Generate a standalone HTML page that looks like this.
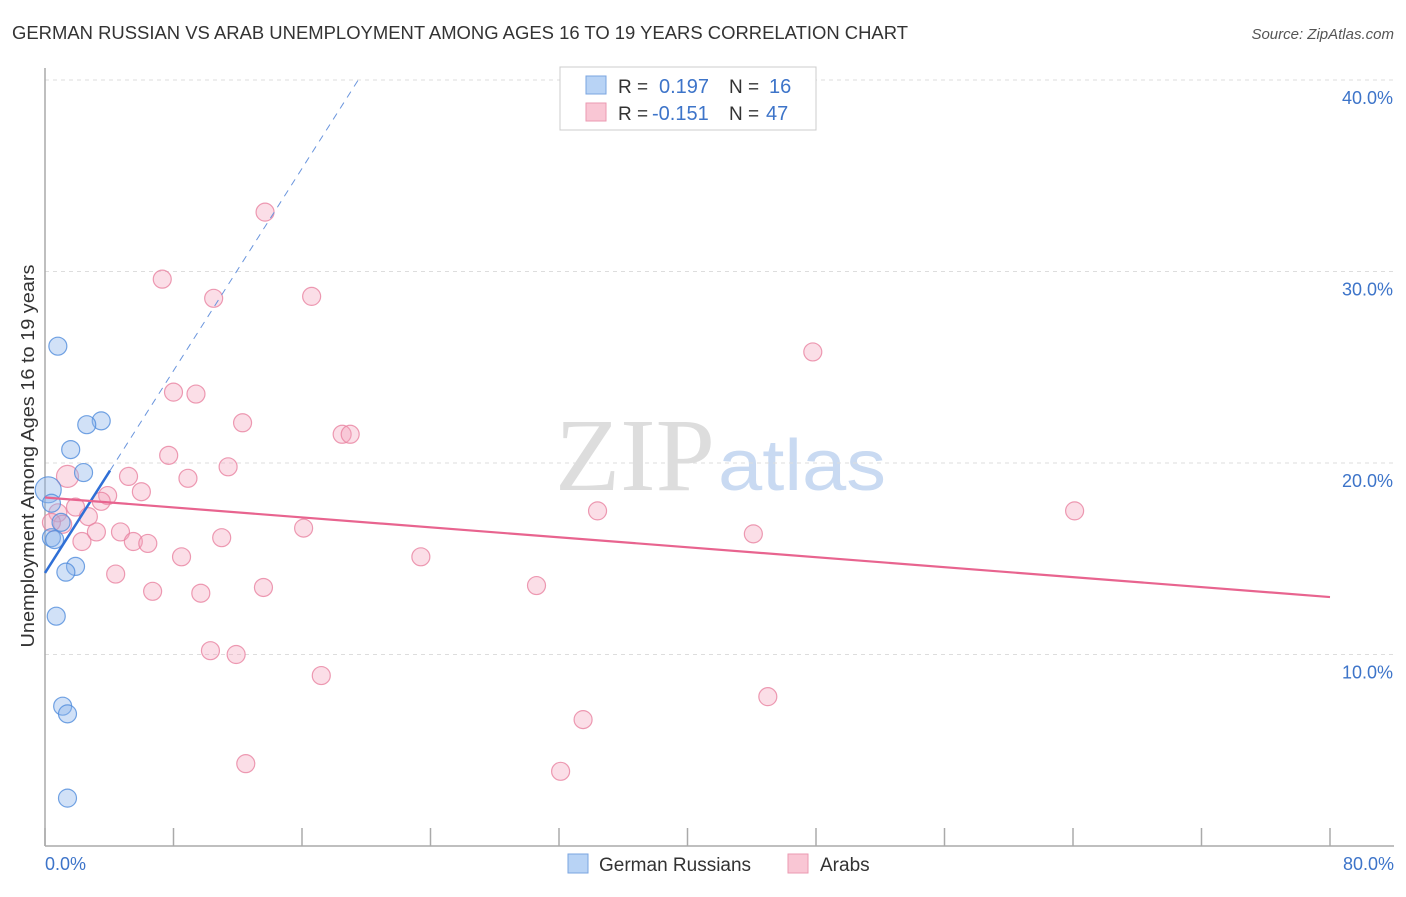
<!DOCTYPE html>
<html><head><meta charset="utf-8"><style>
body{margin:0;background:#fff;font-family:"Liberation Sans",sans-serif;}
</style></head><body>
<svg width="1406" height="892" xmlns="http://www.w3.org/2000/svg" id="chart">
<text x="12" y="39" font-size="18" fill="#333" textLength="896" lengthAdjust="spacingAndGlyphs">GERMAN RUSSIAN VS ARAB UNEMPLOYMENT AMONG AGES 16 TO 19 YEARS CORRELATION CHART</text>
<text x="1394" y="39" font-size="15" fill="#555" text-anchor="end" font-style="italic">Source: ZipAtlas.com</text>
<text x="555" y="490" font-size="104" fill="#ddd" textLength="160" lengthAdjust="spacingAndGlyphs" font-family="Liberation Serif,serif">ZIP</text>
<text x="718" y="490" font-size="72" fill="#c9daf2" textLength="168" lengthAdjust="spacingAndGlyphs">atlas</text>
<g id="grid"></g>
<line x1="45" y1="68" x2="45" y2="846" stroke="#aaa" stroke-width="1.5"/>
<line x1="45" y1="846" x2="1394" y2="846" stroke="#aaa" stroke-width="1.5"/>
<text transform="translate(34,456) rotate(-90)" font-size="18" fill="#333" text-anchor="middle" textLength="383" lengthAdjust="spacingAndGlyphs">Unemployment Among Ages 16 to 19 years</text>
<text x="45" y="870" font-size="18" fill="#3d74c9">0.0%</text>
<text x="1394" y="870" font-size="18" fill="#3d74c9" text-anchor="end">80.0%</text>
<g id="pts"></g>
<g id="lines"></g>
<g>
<rect x="560" y="67" width="256" height="63" fill="#fff" stroke="#ccc"/>
<rect x="586" y="76" width="20" height="18" fill="#b8d3f5" stroke="#7aa5e0"/>
<rect x="586" y="103" width="20" height="18" fill="#f9c6d4" stroke="#eb9ab2"/>
<text x="618" y="93" font-size="19" fill="#333">R =</text>
<text x="659" y="93" font-size="20" fill="#3d74c9">0.197</text>
<text x="729" y="93" font-size="19" fill="#333">N =</text>
<text x="769" y="93" font-size="20" fill="#3d74c9">16</text>
<text x="618" y="120" font-size="19" fill="#333">R =</text>
<text x="652" y="120" font-size="20" fill="#3d74c9">-0.151</text>
<text x="729" y="120" font-size="19" fill="#333">N =</text>
<text x="766" y="120" font-size="20" fill="#3d74c9">47</text>
</g>
<g>
<rect x="568" y="854" width="20" height="19" fill="#b8d3f5" stroke="#7aa5e0"/>
<text x="599" y="871" font-size="19" fill="#333">German Russians</text>
<rect x="788" y="854" width="20" height="19" fill="#f9c6d4" stroke="#eb9ab2"/>
<text x="820" y="871" font-size="19" fill="#333">Arabs</text>
</g>
</svg>
<script>
const yTicks=[10,20,30,40];
const xTicks=[0,8,16,24,32,40,48,56,64,72,80];
const pinkX=[13.7,7.3,10.5,16.6,47.8,8.0,9.4,12.3,18.5,19.0,7.7,11.4,1.4,8.9,5.2,6.0,3.9,3.5,1.9,34.4,64.1,0.8,2.7,1.1,0.4,16.1,4.7,3.2,44.1,11.0,2.3,5.5,6.4,8.5,23.4,4.4,13.6,30.6,6.7,9.7,10.3,11.9,17.2,45.0,33.5,12.5,32.1];
const pinkY=[33.1,29.6,28.6,28.7,25.8,23.7,23.6,22.1,21.5,21.5,20.4,19.8,19.3,19.2,19.3,18.5,18.3,18.0,17.7,17.5,17.5,17.4,17.2,16.8,16.9,16.6,16.4,16.4,16.3,16.1,15.9,15.9,15.8,15.1,15.1,14.2,13.5,13.6,13.3,13.2,10.2,10.0,8.9,7.8,6.6,4.3,3.9];
const blueX=[0.8,3.5,2.6,1.6,2.4,0.2,0.4,1.0,0.4,0.6,1.9,1.3,0.7,1.1,1.4,1.4];
const blueY=[26.1,22.2,22.0,20.7,19.5,18.6,17.9,16.9,16.1,16.0,14.6,14.3,12.0,7.3,6.9,2.5];
const blueFit=[14.26,1.32];
const pinkFit=[18.2,-0.065];
const sx=v=>45+v*1285/80, sy=v=>846-v*19.15;
const NS="http://www.w3.org/2000/svg";
function mk(t,a,p){const e=document.createElementNS(NS,t);for(const k in a)e.setAttribute(k,a[k]);document.getElementById(p).appendChild(e);return e;}
yTicks.forEach(t=>{
 const l=mk('line',{x1:45,x2:1394,y1:sy(t),y2:sy(t),stroke:'#ddd','stroke-dasharray':'4,4'},'grid');
 
 
 const tx=mk('text',{x:1393,y:sy(t)+24,'font-size':18,fill:'#3d74c9','text-anchor':'end'},'grid');
 tx.textContent=t.toFixed(1)+'%';
 
 
});
xTicks.forEach(t=>{
 const l=mk('line',{x1:sx(t),x2:sx(t),y1:828,y2:846,stroke:'#aaa','stroke-width':1.5},'grid');
 
 
});
pinkX.forEach((x,i)=>{
 const c=mk('circle',{cx:sx(x),cy:sy(pinkY[i]),r:i==12?11:9,fill:'rgba(244,160,185,0.35)',stroke:'rgba(232,130,160,0.8)','stroke-width':1.2},'pts');
 
 
});
blueX.forEach((x,i)=>{
 const c=mk('circle',{cx:sx(x),cy:sy(blueY[i]),r:i==5?13:9,fill:'rgba(140,180,235,0.4)',stroke:'rgba(80,140,220,0.8)','stroke-width':1.2},'pts');
 
 
});
const bf=x=>blueFit[0]+blueFit[1]*x, pf=x=>pinkFit[0]+pinkFit[1]*x;
let l=mk('line',{x1:sx(0),y1:sy(bf(0)),x2:sx(4.05),y2:sy(bf(4.05)),stroke:'#2f6fd6','stroke-width':2.5},'lines');


const xe=(40-blueFit[0])/blueFit[1];
l=mk('line',{x1:sx(4.05),y1:sy(bf(4.05)),x2:sx(xe),y2:sy(40),stroke:'#6a95dd','stroke-width':1,'stroke-dasharray':'7,6'},'lines');


l=mk('line',{x1:sx(0),y1:sy(pf(0)),x2:sx(80),y2:sy(pf(80)),stroke:'#e8648f','stroke-width':2.2},'lines');


</script>
</body></html>
